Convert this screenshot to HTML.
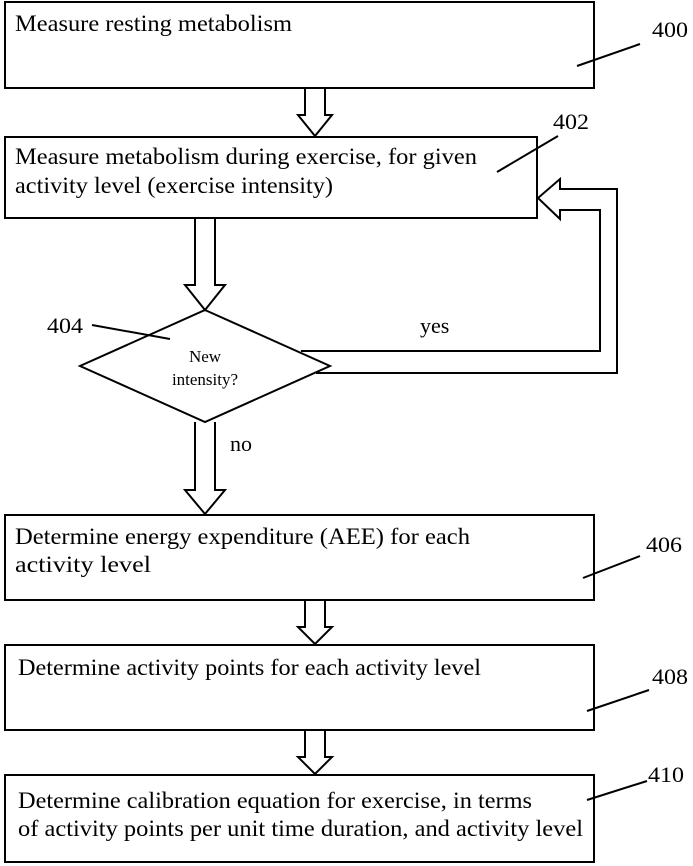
<!DOCTYPE html>
<html><head><meta charset="utf-8"><style>html,body{margin:0;padding:0;background:#fff}svg{display:block}</style></head>
<body>
<svg width="693" height="866" viewBox="0 0 693 866" xmlns="http://www.w3.org/2000/svg" font-family="Liberation Serif, serif" fill="#000">
<g fill="none" stroke="#000" stroke-width="2">
<rect x="5" y="2" width="589" height="86"/>
<rect x="5" y="137" width="532" height="81"/>
<rect x="5" y="515" width="589" height="85"/>
<rect x="5" y="645" width="589" height="85"/>
<rect x="5" y="775" width="589" height="87"/>
<path d="M305 88 V115 H298 L315 136 L332 115 H325 V88"/>
<path d="M305 600 V627 H298 L315 644 L332 627 H325 V600"/>
<path d="M305 730 V757 H298 L315 774 L332 757 H325 V730"/>
<path d="M195 218 V285 H185 L205 310 L225 285 H215 V218"/>
<path d="M195 422 V490 H185 L205 514 L225 490 H215 V422"/>
<path d="M205 310 L330 366 L205 422 L80 366 Z"/>
<path d="M301 351 H600 V210 H560 V219 L538 198 L560 179 V189 H617 V373 H316"/>
<line x1="577" y1="66" x2="640" y2="44"/>
<line x1="497" y1="172" x2="558" y2="136"/>
<line x1="92" y1="325" x2="170" y2="339"/>
<line x1="583" y1="578" x2="640" y2="556"/>
<line x1="587" y1="711" x2="649" y2="690"/>
<line x1="587" y1="800" x2="647" y2="781"/>
</g>
<g font-size="23">
<text x="15" y="31" textLength="277" lengthAdjust="spacingAndGlyphs">Measure resting metabolism</text>
<text x="15" y="164" textLength="462" lengthAdjust="spacingAndGlyphs">Measure metabolism during exercise, for given</text>
<text x="15" y="193" textLength="318" lengthAdjust="spacingAndGlyphs">activity level (exercise intensity)</text>
<text x="15" y="544" textLength="455" lengthAdjust="spacingAndGlyphs">Determine energy expenditure (AEE) for each</text>
<text x="15" y="572" textLength="136" lengthAdjust="spacingAndGlyphs">activity level</text>
<text x="18" y="675" textLength="463" lengthAdjust="spacingAndGlyphs">Determine activity points for each activity level</text>
<text x="18" y="808" textLength="514" lengthAdjust="spacingAndGlyphs">Determine calibration equation for exercise, in terms</text>
<text x="18" y="836" textLength="565" lengthAdjust="spacingAndGlyphs">of activity points per unit time duration, and activity level</text>
</g>
<g font-size="22">
<text x="652" y="37" textLength="36" lengthAdjust="spacingAndGlyphs">400</text>
<text x="553" y="129" textLength="36" lengthAdjust="spacingAndGlyphs">402</text>
<text x="47" y="333" textLength="36" lengthAdjust="spacingAndGlyphs">404</text>
<text x="646" y="552" textLength="36" lengthAdjust="spacingAndGlyphs">406</text>
<text x="652" y="684" textLength="36" lengthAdjust="spacingAndGlyphs">408</text>
<text x="648" y="782" textLength="36" lengthAdjust="spacingAndGlyphs">410</text>
<text x="420" y="333">yes</text>
<text x="230" y="451">no</text>
</g>
<g font-size="17" text-anchor="middle">
<text x="205" y="362">New</text>
<text x="205" y="385">intensity?</text>
</g>
</svg>
</body></html>
